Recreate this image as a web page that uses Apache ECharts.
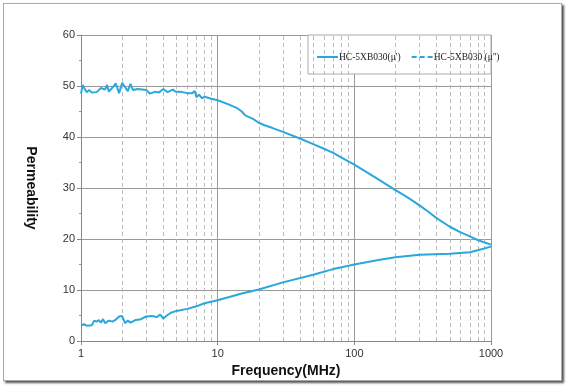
<!DOCTYPE html>
<html>
<head>
<meta charset="utf-8">
<script src="https://cdn.jsdelivr.net/npm/echarts@6/dist/echarts.min.js"></script>
<style>
html,body{margin:0;padding:0;background:#fff;}
#wrap{position:relative;width:571px;height:387px;}
#chart{position:absolute;left:0;top:0;width:571px;height:387px;}
#frame{position:absolute;left:3px;top:3px;width:557px;height:376px;border:1px solid #aaa;box-shadow:2px 2px 2px #555;pointer-events:none;}
</style>
</head>
<body>
<div id="wrap"><div id="chart"></div><div id="frame"></div></div>
<script>
// μ' (real part)
const muRealFreq = [1,1.03,1.07,1.1,1.15,1.2,1.3,1.4,1.5,1.55,1.6,1.7,1.8,1.85,1.9,2.0,2.1,2.2,2.3,2.4,2.6,3.0,3.2,3.5,3.7,4.0,4.3,4.7,4.9,5.5,6.0,6.5,6.8,7.0,7.3,7.7,8.0,9.0,10,12,14,15,16,18,20,22,25,30,40,50,60,70,80,100,150,200,250,300,350,400,500,600,700,800,900,1000];
const muRealVal  = [48.5,50.2,49.3,48.8,49.2,48.7,48.8,49.6,49.3,50.2,48.9,49.7,50.5,49.5,48.6,50.6,49.8,49.0,50.4,49.2,49.4,49.2,48.5,48.9,48.7,49.4,48.8,49.3,48.9,48.8,48.6,48.6,49.0,47.8,48.3,47.6,47.9,47.5,47.2,46.4,45.6,45.0,44.2,43.6,42.8,42.3,41.8,41.0,39.7,38.6,37.7,36.9,36.0,34.6,31.7,29.6,28.0,26.6,25.3,24.1,22.4,21.3,20.5,19.8,19.3,18.9];
// μ'' (imaginary part)
const muImagFreq = [1,1.05,1.1,1.2,1.25,1.3,1.35,1.4,1.45,1.5,1.6,1.7,1.8,1.9,2.0,2.1,2.2,2.3,2.5,2.7,3.0,3.3,3.6,3.8,4.0,4.3,4.6,5.0,6.0,7.0,8.0,10,15,20,30,50,70,100,150,200,300,500,700,800,1000];
const muImagVal  = [3.0,3.3,3.0,3.1,4.0,3.8,4.1,3.6,4.3,3.5,4.0,3.8,4.2,4.8,4.9,3.5,4.0,3.6,4.1,4.2,4.8,4.9,4.7,5.2,4.4,5.1,5.6,5.9,6.3,6.8,7.4,8.0,9.3,10.1,11.5,13.0,14.1,15.0,15.9,16.4,16.9,17.1,17.4,17.8,18.5];
// axis ticks
const minorFreqs = [2,3,4,5,6,7,8,9,20,30,40,50,60,70,80,90,200,300,400,500,600,700,800,900];
const seriesNames = ["HC-5XB030(\u03bc')", "HC-5XB030 (\u03bc'')"];

const color = '#2aa7dc';
const zip = (a,b) => a.map((v,i)=>[v,b[i]]);

const chart = echarts.init(document.getElementById('chart'), null, {renderer:'canvas'});
chart.setOption({
  animation:false,
  grid:{left:81,right:80,top:35,bottom:46,containLabel:false},
  xAxis:{
    type:'log',logBase:10,min:1,max:1000,
    name:'Frequency(MHz)',nameLocation:'middle',nameGap:17,
    nameTextStyle:{fontFamily:'Liberation Sans',fontWeight:'bold',fontSize:14,color:'#111'},
    axisLine:{show:true,lineStyle:{color:'#888',width:1}},
    axisTick:{show:true,length:4,inside:false,lineStyle:{color:'#888'}},
    axisLabel:{fontFamily:'Liberation Sans',fontSize:11,color:'#333',margin:7,formatter:v=>String(Math.round(v))},
    splitLine:{show:true,lineStyle:{color:'#999',width:1}},
    minorTick:{show:false},minorSplitLine:{show:false}
  },
  yAxis:{
    type:'value',min:0,max:60,interval:10,
    name:'Permeability',nameLocation:'middle',nameGap:43,nameRotate:-90,
    nameTextStyle:{fontFamily:'Liberation Sans',fontWeight:'bold',fontSize:14,color:'#111'},
    axisLine:{show:true,lineStyle:{color:'#888',width:1}},
    axisTick:{show:true,length:4,lineStyle:{color:'#888'}},
    minorTick:{show:true,splitNumber:2,length:2,lineStyle:{color:'#999'}},
    axisLabel:{fontFamily:'Liberation Sans',fontSize:11,color:'#333',margin:6},
    splitLine:{show:true,lineStyle:{color:'#999',width:1}}
  },
  legend:{
    left:312,top:47,itemWidth:21,itemHeight:14,itemGap:11,
    textStyle:{fontFamily:'Liberation Serif',fontSize:9.5,color:'#222',padding:[0,0,0,-4]},
    data:[
      {name:seriesNames[0],icon:'path://M0,6 L21,6 L21,8 L0,8 Z',itemStyle:{color:color}},
      {name:seriesNames[1],icon:'path://M0,6 L5,6 L5,8 L0,8 Z M8,6 L13,6 L13,8 L8,8 Z M16,6 L21,6 L21,8 L16,8 Z',itemStyle:{color:color}}
    ],
    z:10
  },
  graphic:[{type:'rect',z:3,shape:{x:308,y:35,width:183,height:39},style:{fill:'#fff',stroke:'#aaa',lineWidth:1}}],
  series:[
    {type:'line',name:'minor',data:[],silent:true,z:1,
     markLine:{silent:true,symbol:['none','none'],label:{show:false},
       lineStyle:{color:'#bbb',type:[4,3],width:1},
       data:minorFreqs.map(f=>({xAxis:f}))}},
    {type:'line',name:seriesNames[0],data:zip(muRealFreq,muRealVal),symbol:'none',smooth:false,
     lineStyle:{color:color,width:2},itemStyle:{color:color},z:5},
    {type:'line',name:seriesNames[1],data:zip(muImagFreq,muImagVal),symbol:'none',smooth:false,
     lineStyle:{color:color,width:2},itemStyle:{color:color},z:5}
  ]
});
</script>
</body>
</html>
